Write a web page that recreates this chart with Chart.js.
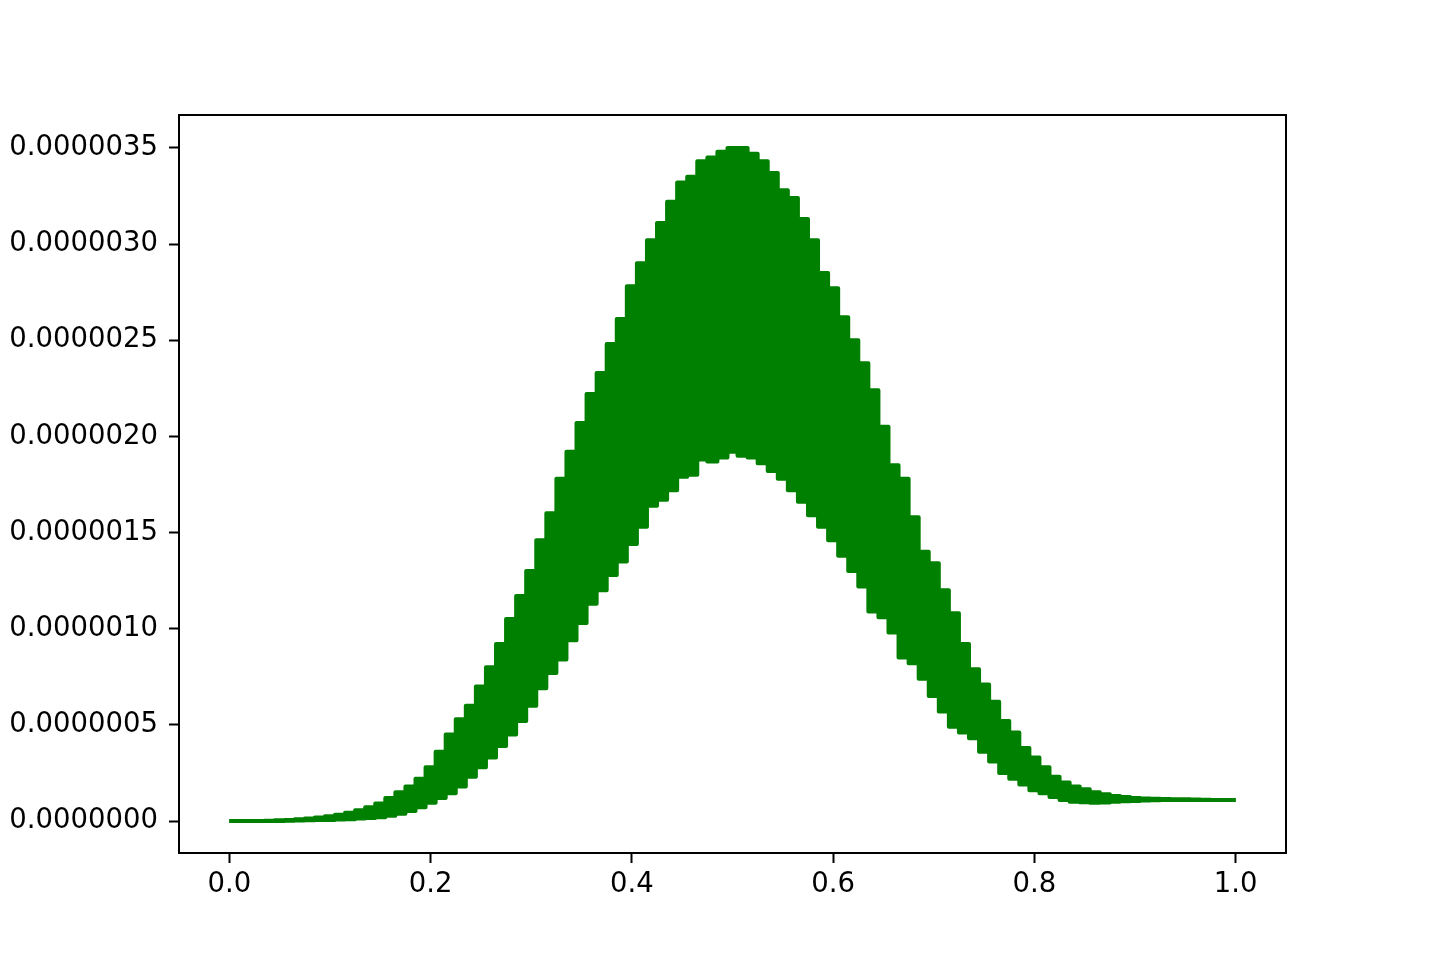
<!DOCTYPE html>
<html>
<head>
<meta charset="utf-8">
<script src="https://cdn.jsdelivr.net/npm/chart.js@4.4.1/dist/chart.umd.min.js"></script>
<style>
  html, body { margin: 0; padding: 0; background: #ffffff; }
  canvas { display: block; }
</style>
</head>
<body>
<canvas id="chart" width="1430" height="960"></canvas>
<script>
// x positions of the samples
const xs = [
  0.00, 0.01, 0.02, 0.03, 0.04, 0.05, 0.06, 0.07, 0.08, 0.09,
  0.10, 0.11, 0.12, 0.13, 0.14, 0.15, 0.16, 0.17, 0.18, 0.19,
  0.20, 0.21, 0.22, 0.23, 0.24, 0.25, 0.26, 0.27, 0.28, 0.29,
  0.30, 0.31, 0.32, 0.33, 0.34, 0.35, 0.36, 0.37, 0.38, 0.39,
  0.40, 0.41, 0.42, 0.43, 0.44, 0.45, 0.46, 0.47, 0.48, 0.49,
  0.50, 0.51, 0.52, 0.53, 0.54, 0.55, 0.56, 0.57, 0.58, 0.59,
  0.60, 0.61, 0.62, 0.63, 0.64, 0.65, 0.66, 0.67, 0.68, 0.69,
  0.70, 0.71, 0.72, 0.73, 0.74, 0.75, 0.76, 0.77, 0.78, 0.79,
  0.80, 0.81, 0.82, 0.83, 0.84, 0.85, 0.86, 0.87, 0.88, 0.89,
  0.90, 0.91, 0.92, 0.93, 0.94, 0.95, 0.96, 0.97, 0.98, 0.99,
  1.00,
];

// peaks of the oscillation, in units of 1e-6
const upperMicro = [
  0.000, 0.000, 0.000, 0.001, 0.002, 0.004, 0.006, 0.009, 0.013, 0.018,
  0.025, 0.033, 0.043, 0.056, 0.072, 0.092, 0.12, 0.15, 0.18, 0.22,
  0.28, 0.36, 0.45, 0.53, 0.60, 0.70, 0.80, 0.92, 1.05, 1.17,
  1.30, 1.46, 1.60, 1.78, 1.92, 2.07, 2.22, 2.33, 2.48, 2.61,
  2.78, 2.90, 3.02, 3.11, 3.22, 3.32, 3.35, 3.43, 3.45, 3.48,
  3.50, 3.50, 3.47, 3.43, 3.37, 3.28, 3.24, 3.13, 3.02, 2.85,
  2.77, 2.62, 2.50, 2.38, 2.24, 2.05, 1.85, 1.78, 1.58, 1.40,
  1.34, 1.20, 1.08, 0.92, 0.79, 0.71, 0.62, 0.52, 0.46, 0.38,
  0.33, 0.28, 0.23, 0.20, 0.18, 0.165, 0.15, 0.14, 0.13, 0.125,
  0.12, 0.118, 0.116, 0.115, 0.114, 0.113, 0.112, 0.111, 0.110, 0.110,
  0.110,
];

// troughs of the oscillation, in units of 1e-6
const lowerMicro = [
  0.000, 0.000, 0.000, 0.000, 0.000, 0.001, 0.002, 0.003, 0.004, 0.005,
  0.006, 0.008, 0.010, 0.013, 0.016, 0.020, 0.028, 0.038, 0.052, 0.072,
  0.095, 0.12, 0.145, 0.18, 0.23, 0.28, 0.33, 0.39, 0.45, 0.52,
  0.60, 0.69, 0.77, 0.84, 0.94, 1.03, 1.13, 1.20, 1.28, 1.35,
  1.44, 1.53, 1.64, 1.67, 1.72, 1.79, 1.80, 1.88, 1.87, 1.89,
  1.92, 1.90, 1.89, 1.86, 1.82, 1.78, 1.72, 1.66, 1.59, 1.53,
  1.46, 1.38, 1.30, 1.22, 1.09, 1.06, 0.98, 0.85, 0.82, 0.74,
  0.65, 0.57, 0.49, 0.46, 0.43, 0.36, 0.31, 0.25, 0.22, 0.19,
  0.16, 0.145, 0.125, 0.11, 0.10, 0.098, 0.095, 0.097, 0.100, 0.103,
  0.105, 0.107, 0.108, 0.109, 0.110, 0.110, 0.110, 0.110, 0.110, 0.110,
  0.110,
];

const GREEN = '#008000';
const FONT = { family: 'DejaVu Sans', size: 27.5 };

const toPoints = (vals) => xs.map((x, i) => ({ x, y: vals[i] * 1e-6 }));

// matplotlib style box around the axes
const frame = {
  id: 'frame',
  afterDraw(chart) {
    const { ctx, chartArea: a } = chart;
    ctx.save();
    ctx.strokeStyle = '#000000';
    ctx.lineWidth = 2;
    ctx.strokeRect(a.left, a.top, a.right - a.left, a.bottom - a.top);
    ctx.restore();
  },
};

function lineDataset(data, extra) {
  return Object.assign({
    data,
    borderColor: GREEN,
    backgroundColor: GREEN,
    borderWidth: 4,
    pointRadius: 0,
    tension: 0,
    stepped: 'middle',
    borderJoinStyle: 'round',
    fill: false,
  }, extra);
}

const tickGrid = {
  display: true,
  drawOnChartArea: false,
  drawTicks: true,
  tickLength: 10,
  tickWidth: 2,
  tickColor: '#000000',
};

new Chart(document.getElementById('chart'), {
  type: 'line',
  data: {
    datasets: [
      lineDataset(toPoints(upperMicro)),
      lineDataset(toPoints(lowerMicro), { fill: '-1' }),
    ],
  },
  options: {
    responsive: false,
    animation: false,
    layout: { padding: { left: 0, top: 115, right: 144, bottom: 47 } },
    plugins: { legend: { display: false }, tooltip: { enabled: false } },
    scales: {
      x: {
        type: 'linear',
        min: -0.05,
        max: 1.05,
        grid: tickGrid,
        border: { display: false },
        ticks: {
          stepSize: 0.2,
          includeBounds: false,
          color: '#000000',
          font: FONT,
          padding: 5,
          maxRotation: 0,
          callback: (v) => v.toFixed(1),
        },
        afterFit: (s) => { s.height = 60; },
      },
      y: {
        type: 'linear',
        min: -0.166e-6,
        max: 3.671e-6,
        grid: tickGrid,
        border: { display: false },
        ticks: {
          stepSize: 0.5e-6,
          includeBounds: false,
          color: '#000000',
          font: FONT,
          padding: 11,
          callback: (v) => v.toFixed(7),
        },
        afterFit: (s) => { s.width = 179; },
      },
    },
  },
  plugins: [frame],
});
</script>
</body>
</html>
